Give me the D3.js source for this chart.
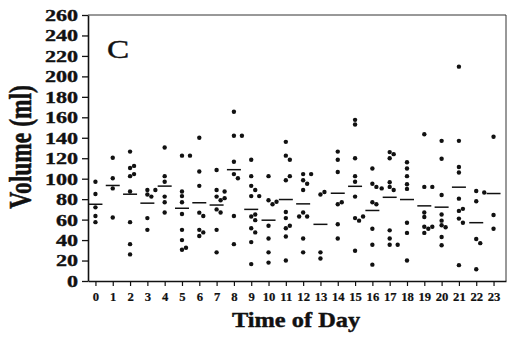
<!DOCTYPE html>
<html>
<head>
<meta charset="utf-8">
<script src="https://cdn.jsdelivr.net/npm/d3@7"></script>
<style>
  html, body { margin: 0; padding: 0; background: #fff; }
  svg { display: block; }
  text { font-family: "Liberation Serif", "Times New Roman", serif; fill: #111; }
</style>
</head>
<body>
<script>
// Hour of day categories and y-axis tick values
const hours = [0,1,2,3,4,5,6,7,8,9,10,11,12,13,14,15,16,17,18,19,20,21,22,23];
const yTicks = [0,20,40,60,80,100,120,140,160,180,200,220,240,260];

// Individual void volumes (ml) recorded in each hour
const hour0  = [97, 85, 72, 63.5, 57.5];
const hour1  = [120.5, 100.5, 90.5, 62];
const hour2  = [126.5, 110.5, 112.5, 102.5, 104.5, 87.5, 57.5, 36, 26];
const hour3  = [89, 89, 84.5, 82.5, 61.5, 50];
const hour4  = [130.5, 102.5, 97, 82.5, 77, 67];
const hour5  = [122.5, 122.5, 87.5, 83, 77, 65.5, 50, 40, 30.5, 32.5];
const hour6  = [140, 107, 93, 66.8, 63.5, 50, 44, 47.5];
const hour7  = [108.5, 89, 87.5, 82.5, 81, 79, 70, 67, 50, 28];
const hour8  = [165.5, 142, 142, 116.5, 104.5, 100.5, 63.5, 36];
const hour9  = [118.5, 102.5, 93, 89, 83, 83, 63, 65, 59.5, 51.5, 47.5, 38, 16.5];
const hour10 = [102.5, 79, 75, 77.5, 54, 41.5, 28, 18];
const hour11 = [136, 122.5, 118.5, 98.5, 102.5, 67.5, 61.5, 51.5, 54, 43.5, 20];
const hour12 = [104.5, 104.5, 98.5, 95, 89, 67, 63, 63, 41.5, 28];
const hour13 = [84.5, 87, 28, 22];
const hour14 = [126.5, 118.5, 106.5, 75, 77, 55.5, 41.5];
const hour15 = [157.5, 153, 120, 102.5, 97, 82.5, 61.5, 63, 59, 29.5];
const hour16 = [110, 95, 92, 77, 75, 51, 35.5, 16];
const hour17 = [126, 124, 120, 92, 96.5, 89, 90.5, 49.5, 41.5, 35.5, 35.5];
const hour18 = [116, 110, 102.5, 94.5, 90, 57, 47, 20];
const hour19 = [143.5, 92, 92, 67, 62.5, 53, 53, 51, 47];
const hour20 = [137, 119.5, 84, 65, 59, 54.5, 52.5, 43, 35];
const hour21 = [209.5, 137, 111.5, 106, 80.5, 68.5, 70.5, 61, 57, 15.5];
const hour22 = [88, 86.5, 78, 41, 37, 11.5];
const hour23 = [141, 64.5, 51];

const volumesByHour = [hour0, hour1, hour2, hour3, hour4, hour5, hour6, hour7,
  hour8, hour9, hour10, hour11, hour12, hour13, hour14, hour15, hour16, hour17,
  hour18, hour19, hour20, hour21, hour22, hour23];

const W = 509, H = 345;
const plotLeft = 88, plotRight = 506, plotTop = 15, plotBottom = 281;
const serif = '"Liberation Serif", "Times New Roman", serif';

const svg = d3.select("body").append("svg")
  .attr("width", W).attr("height", H);

const x = d3.scaleLinear().domain([-0.43, 23.72]).range([plotLeft, plotRight]);
const y = d3.scaleLinear().domain([0, 260]).range([plotBottom, plotTop]);

// Frame (top and right edges)
svg.append("path")
  .attr("d", `M${plotLeft},${plotTop}H${plotRight}V${plotBottom}`)
  .attr("fill", "none").attr("stroke", "#333").attr("stroke-width", 1);

// Y axis
const gy = svg.append("g").attr("transform", `translate(${plotLeft},0)`)
  .call(d3.axisLeft(y).tickValues(yTicks).tickSize(6).tickSizeOuter(0))
  .attr("font-family", serif);
gy.select(".domain").attr("stroke", "#111").attr("stroke-width", 1.6);
gy.selectAll(".tick line").attr("stroke", "#111").attr("stroke-width", 1.3);
gy.selectAll(".tick text")
  .attr("x", 0).attr("dy", "0.34em")
  .attr("transform", "translate(-10,0) scale(1.38,1)")
  .style("font-size", "16px").style("font-weight", "bold")
  .style("font-family", serif)
  .attr("fill", "#111").attr("stroke", "#111").attr("stroke-width", 0.35);

// X axis
const gx = svg.append("g").attr("transform", `translate(0,${plotBottom})`)
  .call(d3.axisBottom(x).tickValues(hours).tickSize(5).tickSizeOuter(0))
  .attr("font-family", serif);
gx.select(".domain").attr("stroke", "#111").attr("stroke-width", 1.4);
gx.selectAll(".tick line").attr("stroke", "#111").attr("stroke-width", 1.2);
gx.selectAll(".tick text")
  .attr("y", 0).attr("dy", 0)
  .attr("transform", "translate(0,20) scale(1.1,1)")
  .style("font-size", "11.5px").style("font-weight", "bold")
  .style("font-family", serif)
  .attr("fill", "#111").attr("stroke", "#111").attr("stroke-width", 0.2);

// Dots: sit on the hour, shifted sideways only when they would overlap
const step = 4, minDist = 4.3;
const dots = [];
volumesByHour.forEach((vals, h) => {
  const placed = [];
  vals.forEach(v => {
    const cy = y(v);
    let dx = 0;
    for (const k of [0, 1, -1, 2, -2, 3, -3, 4, -4]) {
      const cand = k * step;
      if (placed.every(p => Math.hypot(p.dx - cand, p.cy - cy) >= minDist)) { dx = cand; break; }
    }
    placed.push({ dx, cy });
    dots.push({ h, v, dx });
  });
});

svg.append("g").selectAll("circle").data(dots).join("circle")
  .attr("cx", d => x(d.h) + d.dx)
  .attr("cy", d => y(d.v))
  .attr("r", 2.2)
  .attr("fill", "#111");

// Hourly mean markers
const means = hours.map(h => ({ h, m: d3.mean(volumesByHour[h]) }));
svg.append("g").selectAll("line").data(means).join("line")
  .attr("x1", d => x(d.h) - 7).attr("x2", d => x(d.h) + 7)
  .attr("y1", d => y(d.m)).attr("y2", d => y(d.m))
  .attr("stroke", "#111").attr("stroke-width", 1.5);

// Panel letter
svg.append("text")
  .attr("transform", "translate(107,57.5) scale(1.33,1)")
  .style("font-size", "25px").style("font-family", serif)
  .attr("stroke", "#111").attr("stroke-width", 0.4)
  .text("C");

// Axis titles
svg.append("text")
  .attr("transform", "translate(296,327) scale(1.22,1)")
  .attr("text-anchor", "middle")
  .style("font-size", "20px").style("font-weight", "bold").style("font-family", serif)
  .attr("stroke", "#111").attr("stroke-width", 0.4)
  .text("Time of Day");

svg.append("text")
  .attr("transform", "translate(31,147) rotate(-90) scale(1,1.38)")
  .attr("text-anchor", "middle")
  .style("font-size", "23.5px").style("font-weight", "bold").style("font-family", serif)
  .attr("stroke", "#111").attr("stroke-width", 0.4)
  .text("Volume (ml)");
</script>
</body>
</html>
